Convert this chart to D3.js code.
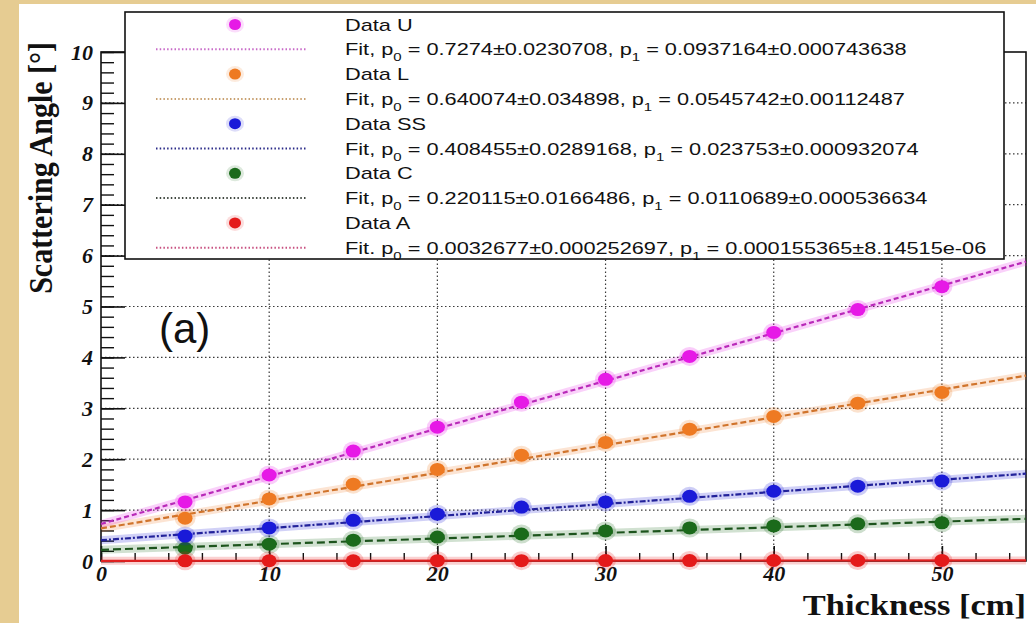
<!DOCTYPE html>
<html><head><meta charset="utf-8">
<script src="https://cdn.jsdelivr.net/npm/d3@7"></script>
<style>html,body{margin:0;padding:0;background:#fff;} svg{display:block}</style>
</head><body>
<script>
// ---- data ----
const thickness = [5, 10, 15, 20, 25, 30, 35, 40, 45, 50];
const dataU  = [1.16, 1.69, 2.16, 2.63, 3.12, 3.57, 4.02, 4.49, 4.94, 5.39];
const dataL  = [0.84, 1.22, 1.51, 1.80, 2.08, 2.33, 2.59, 2.84, 3.10, 3.31];
const dataSS = [0.49, 0.65, 0.80, 0.92, 1.06, 1.16, 1.27, 1.37, 1.47, 1.57];
const dataC  = [0.25, 0.33, 0.41, 0.47, 0.53, 0.59, 0.65, 0.69, 0.73, 0.75];
const dataA  = [0.004, 0.005, 0.005, 0.006, 0.007, 0.008, 0.009, 0.010, 0.010, 0.011];
const seriesNames = ["U", "L", "SS", "C", "A"];
const fitP0 = [0.7274, 0.640074, 0.408455, 0.220115, 0.0032677];
const fitP1 = [0.0937164, 0.0545742, 0.023753, 0.0110689, 0.000155365];
const fitP0Text = ["0.7274±0.0230708", "0.640074±0.034898", "0.408455±0.0289168", "0.220115±0.0166486", "0.0032677±0.000252697"];
const fitP1Text = ["0.0937164±0.000743638", "0.0545742±0.00112487", "0.023753±0.000932074", "0.0110689±0.000536634", "0.000155365±8.14515e-06"];
const fitPrefix = ["Fit, p", "Fit, p", "Fit, p", "Fit, p", "Fit. p"];
const xTicks = [0, 10, 20, 30, 40, 50];
const yTicks = [0, 1, 2, 3, 4, 5, 6, 7, 8, 9, 10];
const xTitle = "Thickness [cm]";
const yTitle = "Scattering Angle [°]";
const panelLabel = "(a)";

// ---- styles ----
const markerColors = ["#e619e6", "#ee7a22", "#1a1ad8", "#1b6a1b", "#e41a1a"];
const lineColors   = ["#b82ab8", "#d0742c", "#22229a", "#1d541d", "#e02020"];
const lineDash     = ["5,3", "6,3", "6,2,2,2", "8,4", null];
const legLineColors = ["#c86ac8", "#c8a070", "#2a2a88", "#404840", "#c85080"];

const allData = [dataU, dataL, dataSS, dataC, dataA];

const W = 1036, H = 623;
const svg = d3.select("body").append("svg").attr("width", W).attr("height", H);
svg.append("rect").attr("width", W).attr("height", H).attr("fill", "#ffffff");
svg.append("rect").attr("x", 0).attr("y", 0).attr("width", W).attr("height", 4).attr("fill", "#e6cc92");
svg.append("rect").attr("x", 0).attr("y", 0).attr("width", 19).attr("height", H).attr("fill", "#e6cc92");

const x = d3.scaleLinear().domain([0, 55]).range([101, 1026]);
const y = d3.scaleLinear().domain([0, 10]).range([561, 52]);

// grid
const grid = svg.append("g").attr("stroke", "#3a3a3a").attr("stroke-width", 1.2).attr("stroke-dasharray", "1.5,2.5");
grid.selectAll(".gx").data(xTicks.filter(d => d > 0)).join("line")
  .attr("x1", d => x(d)).attr("x2", d => x(d)).attr("y1", y(0)).attr("y2", y(10));
grid.selectAll(".gy").data(yTicks.filter(d => d > 0 && d < 10)).join("line")
  .attr("x1", x(0)).attr("x2", x(55)).attr("y1", d => y(d)).attr("y2", d => y(d));

// axes
const tickFont = "'Liberation Serif', 'Times New Roman', serif";
const yMinor = d3.range(0, 10.001, 0.2);
const xMinor = d3.range(0, 55.001, 2);
svg.append("g").attr("transform", `translate(${x(0)},0)`)
  .call(d3.axisLeft(y).tickValues(yMinor).tickSize(-13).tickFormat(""))
  .call(g => g.select(".domain").remove())
  .call(g => g.selectAll("line").attr("stroke", "#111").attr("stroke-width", 1.4));
svg.append("g").attr("transform", `translate(${x(0)},0)`)
  .call(d3.axisLeft(y).tickValues(yTicks).tickSize(-24).tickPadding(8).tickFormat(d3.format("d")))
  .call(g => g.select(".domain").remove())
  .call(g => g.selectAll("line").attr("stroke", "#111").attr("stroke-width", 1.6))
  .call(g => g.selectAll("text").attr("font-family", tickFont).attr("font-weight", "bold")
    .attr("font-style", "italic").attr("font-size", 22).attr("fill", "#111"));
svg.append("g").attr("transform", `translate(0,${y(0)})`)
  .call(d3.axisBottom(x).tickValues(xMinor).tickSize(-8).tickFormat(""))
  .call(g => g.select(".domain").remove())
  .call(g => g.selectAll("line").attr("stroke", "#111").attr("stroke-width", 1.4));
svg.append("g").attr("transform", `translate(0,${y(0)})`)
  .call(d3.axisBottom(x).tickValues(xTicks).tickSize(-15).tickPadding(4).tickFormat(d3.format("d")))
  .call(g => g.select(".domain").remove())
  .call(g => g.selectAll("line").attr("stroke", "#111").attr("stroke-width", 1.6))
  .call(g => g.selectAll("text").attr("font-family", tickFont).attr("font-weight", "bold")
    .attr("font-style", "italic").attr("font-size", 22).attr("fill", "#111"));

// frame
svg.append("rect").attr("x", x(0)).attr("y", y(10)).attr("width", x(55) - x(0)).attr("height", y(0) - y(10))
  .attr("fill", "none").attr("stroke", "#111").attr("stroke-width", 1.6);

// fit lines
const fitLine = d3.line().x(d => x(d[0])).y(d => y(d[1]));
const order = [3, 2, 1, 0, 4];
order.forEach(i => {
  const pts = [[0, fitP0[i]], [55, fitP0[i] + fitP1[i] * 55]];
  svg.append("path").attr("d", fitLine(pts)).attr("fill", "none")
    .attr("stroke", markerColors[i]).attr("stroke-opacity", 0.2).attr("stroke-width", 8);
  svg.append("path").attr("d", fitLine(pts)).attr("fill", "none")
    .attr("stroke", lineColors[i]).attr("stroke-width", 2.2)
    .attr("stroke-dasharray", lineDash[i]);
});

// markers
order.forEach(i => {
  const g = svg.append("g");
  const pts = thickness.map((t, k) => [t, allData[i][k]]);
  g.selectAll(".halo").data(pts).join("ellipse")
    .attr("cx", d => x(d[0])).attr("cy", d => y(d[1])).attr("rx", 10.5).attr("ry", 9.5)
    .attr("fill", markerColors[i]).attr("opacity", 0.22);
  g.selectAll(".pt").data(pts).join("ellipse")
    .attr("cx", d => x(d[0])).attr("cy", d => y(d[1])).attr("rx", 7.5).attr("ry", 6.5)
    .attr("fill", markerColors[i]);
});

// legend
const lg = svg.append("g");
lg.append("rect").attr("x", 125).attr("y", 12).attr("width", 879).attr("height", 247)
  .attr("fill", "#fff").attr("stroke", "#111").attr("stroke-width", 1.6);
const rowY = k => 24.5 + k * 24.8;
const legFont = "'Liberation Sans', Arial, sans-serif";
const sx = 1.36;
seriesNames.forEach((name, i) => {
  const r1 = rowY(2 * i), r2 = rowY(2 * i + 1);
  lg.append("ellipse").attr("cx", 235).attr("cy", r1).attr("rx", 9).attr("ry", 8)
    .attr("fill", markerColors[i]).attr("opacity", 0.15);
  lg.append("ellipse").attr("cx", 235).attr("cy", r1).attr("rx", 6).attr("ry", 5.5)
    .attr("fill", markerColors[i]);
  lg.append("line").attr("x1", 156).attr("x2", 307).attr("y1", r2).attr("y2", r2)
    .attr("stroke", legLineColors[i]).attr("stroke-width", 2).attr("stroke-dasharray", "1.5,2.2");
  lg.append("text").attr("transform", `translate(345,${r1 + 6}) scale(${sx},1)`)
    .attr("font-family", legFont).attr("font-size", 16).attr("fill", "#111").text("Data " + name);
  const t = lg.append("text").attr("transform", `translate(345,${r2 + 6}) scale(${sx},1)`)
    .attr("font-family", legFont).attr("font-size", 16).attr("fill", "#111");
  t.append("tspan").text(fitPrefix[i]);
  t.append("tspan").attr("dy", 6).attr("font-size", 11).text("0");
  t.append("tspan").attr("dy", -6).text(" = " + fitP0Text[i] + ", p");
  t.append("tspan").attr("dy", 6).attr("font-size", 11).text("1");
  t.append("tspan").attr("dy", -6).text(" = " + fitP1Text[i]);
});

// titles
const titleFont = "'Liberation Serif', 'Times New Roman', serif";
svg.append("text").attr("transform", `translate(1026,615) scale(1.15,1)`)
  .attr("text-anchor", "end").attr("font-family", titleFont).attr("font-weight", "bold")
  .attr("font-size", 30).attr("fill", "#111").text(xTitle);
svg.append("text").attr("transform", `translate(52,42) scale(1.15,1) rotate(-90)`)
  .attr("text-anchor", "end").attr("font-family", titleFont).attr("font-weight", "bold")
  .attr("font-size", 30).attr("fill", "#111").text(yTitle);
svg.append("text").attr("x", 159).attr("y", 343)
  .attr("font-family", legFont).attr("font-size", 42).attr("fill", "#111").text(panelLabel);
</script>
</body></html>
